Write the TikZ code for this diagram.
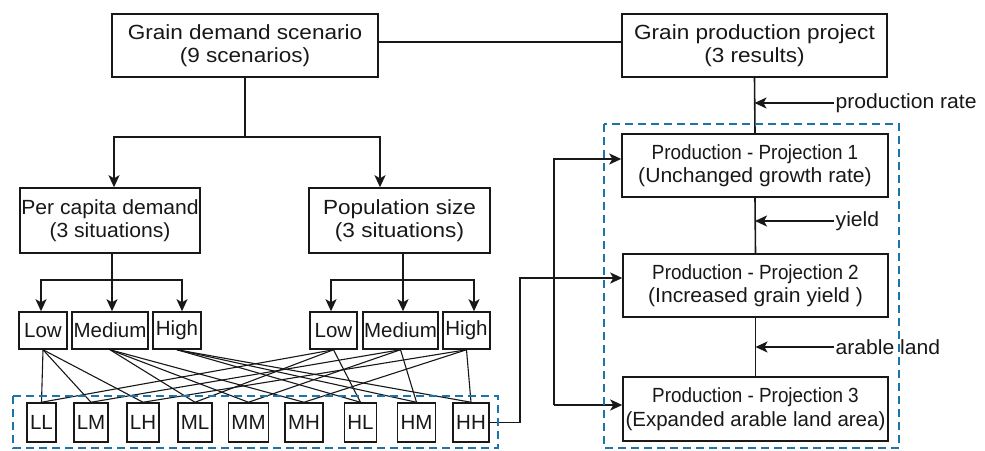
\documentclass[tikz,border=0pt]{standalone}
\usepackage{fontspec}
\setmainfont{Liberation Sans}[FakeStretch=1.1]
\newfontfamily\midf{Liberation Sans}[FakeStretch=1.03]
\newfontfamily\projf{Liberation Sans}[FakeStretch=0.92]
\newfontfamily\levf{Liberation Sans}[FakeStretch=1.0]
\usetikzlibrary{arrows.meta}
\definecolor{ink}{RGB}{24,24,24}
\definecolor{dblue}{RGB}{27,117,168}
\begin{document}
\begin{tikzpicture}[x=1pt,y=-1pt,
  box/.style={draw=ink, line width=1.5pt, inner sep=0pt, align=center, text=ink, font=\fontsize{20.5}{23.5}\selectfont},
  lev/.style={box, font=\levf\fontsize{20.5}{23.5}\selectfont, minimum height=37pt},
  combo/.style={box, font=\levf\fontsize{20.5}{23.5}\selectfont, minimum height=39pt, inner xsep=3pt},
  conn/.style={draw=ink, line width=1.6pt},
  arr/.style={conn, -{Stealth[length=12pt,width=11pt,inset=3pt]}},
  thinl/.style={draw=ink, line width=1.1pt},
  dbox/.style={draw=dblue, line width=2pt, dash pattern=on 8pt off 5pt},
  lab/.style={anchor=west, inner sep=1.5pt, text=ink, font=\midf\fontsize{20.5}{23.5}\selectfont}]
\fill[white] (0,0) rectangle (985,450);
\useasboundingbox (0,0) rectangle (985,450);

% top boxes
\node[box, minimum width=266pt, minimum height=63pt] (dem) at (245,45.5) {Grain demand scenario\\(9 scenarios)};
\node[box, minimum width=265pt, minimum height=63pt] (prod) at (754.5,45.5) {Grain production project\\(3 results)};
\node[box, minimum width=180pt, minimum height=65pt, font=\midf\fontsize{20.5}{23.5}\selectfont] (pc) at (110,220.5) {Per capita demand\\(3 situations)};
\node[box, minimum width=181pt, minimum height=65pt] (pop) at (399.5,220.5) {Population size\\(3 situations)};

% level boxes
\node[lev, minimum width=48pt] (L1) at (43,330.5) {Low};
\node[lev, minimum width=76pt] (M1) at (110,330.5) {Medium};
\node[lev, minimum width=48pt] (H1) at (177,330.5) {High};
\node[lev, minimum width=47pt] (L2) at (333.5,330.5) {Low};
\node[lev, minimum width=75pt] (M2) at (400.5,330.5) {Medium};
\node[lev, minimum width=47pt] (H2) at (466.5,330.5) {High};

% combination boxes
\node[combo] (LL) at (41.5,422.5) {LL};
\node[combo] (LM) at (91,422.5) {LM};
\node[combo] (LH) at (143,422.5) {LH};
\node[combo] (ML) at (195,422.5) {ML};
\node[combo] (MM) at (248.5,422.5) {MM};
\node[combo] (MH) at (304,422.5) {MH};
\node[combo] (HL) at (360.5,422.5) {HL};
\node[combo] (HM) at (416.5,422.5) {HM};
\node[combo] (HH) at (471,422.5) {HH};

% projections
\node[box, minimum width=266pt, minimum height=63pt, font=\midf\fontsize{20.5}{23.5}\selectfont] (P1) at (755,165.5) {{\projf Production - Projection 1}\\(Unchanged growth rate)};
\node[box, minimum width=265pt, minimum height=63pt, font=\midf\fontsize{20.5}{23.5}\selectfont] (P2) at (755.5,285.5) {{\projf Production - Projection 2}\\(Increased grain yield )};
\node[box, minimum width=265pt, minimum height=64pt, font=\levf\fontsize{20.5}{23.5}\selectfont] (P3) at (755.5,409) {{\projf Production - Projection 3}\\(Expanded arable land area)};

% demand tree
\draw[conn] ([yshift=3.5pt]dem.east) -- ([yshift=3.5pt]prod.west);
\coordinate (t1) at (245,137);
\coordinate (tl) at (114,137);
\coordinate (tr) at (380,137);
\draw[conn] (dem.south) -- (t1);
\draw[arr] (t1) -- (tl) -- (tl |- pc.north);
\draw[arr] (t1) -- (tr) -- (tr |- pop.north);

\coordinate (j1) at (112,280);
\coordinate (a1l) at (41,280);
\coordinate (a1r) at (182,280);
\draw[conn] (j1 |- pc.south) -- (j1);
\draw[arr] (j1) -- (a1l) -- (a1l |- L1.north);
\draw[arr] (j1) -- (a1r) -- (a1r |- H1.north);
\draw[arr] (j1) -- (j1 |- M1.north);

\coordinate (j2) at (403,280);
\coordinate (a2l) at (331,280);
\coordinate (a2r) at (474,280);
\draw[conn] (j2 |- pop.south) -- (j2);
\draw[arr] (j2) -- (a2l) -- (a2l |- L2.north);
\draw[arr] (j2) -- (a2r) -- (a2r |- H2.north);
\draw[arr] (j2) -- (j2 |- M2.north);

\foreach \a/\b in {L1/LL, L1/LM, L1/LH, M1/ML, M1/MM, M1/MH, H1/HL, H1/HM, H1/HH,
                   L2/LL, L2/ML, L2/HL, M2/LM, M2/MM, M2/HM, H2/LH, H2/MH, H2/HH}
  \draw[thinl] (\a.south) -- (\b.north);

% links to projections
\coordinate (k1) at (520,278);
\draw[arr] (HH.east) -| (k1) -- (k1 -| P2.west);
\coordinate (k2) at (554,159);
\coordinate (k3) at (554,405);
\draw[arr] (k3) -- (k2) -- (k2 -| P1.west);
\draw[arr] (k3) -- (k3 -| P3.west);

% production chain
\draw[conn] (prod.south) -- (P1.north);
\draw[conn] (P1.south) -- (P2.north);
\draw[conn] (P2.south) -- (P3.north);
\node[lab] (lr) at (834,103) {production rate};
\node[lab] (ly) at (834,221) {yield};
\node[lab] (la) at (834,347) {arable land};
\draw[arr] (lr.west) -- (lr.west -| prod.south);
\draw[arr] (ly.west) -- (ly.west -| P1.south);
\draw[arr] (la.west) -- (la.west -| P2.south);

% dashed groups
\draw[dbox] (13,396) rectangle (498,448);
\draw[dbox] (604,124) rectangle (899,448);
\end{tikzpicture}
\end{document}
